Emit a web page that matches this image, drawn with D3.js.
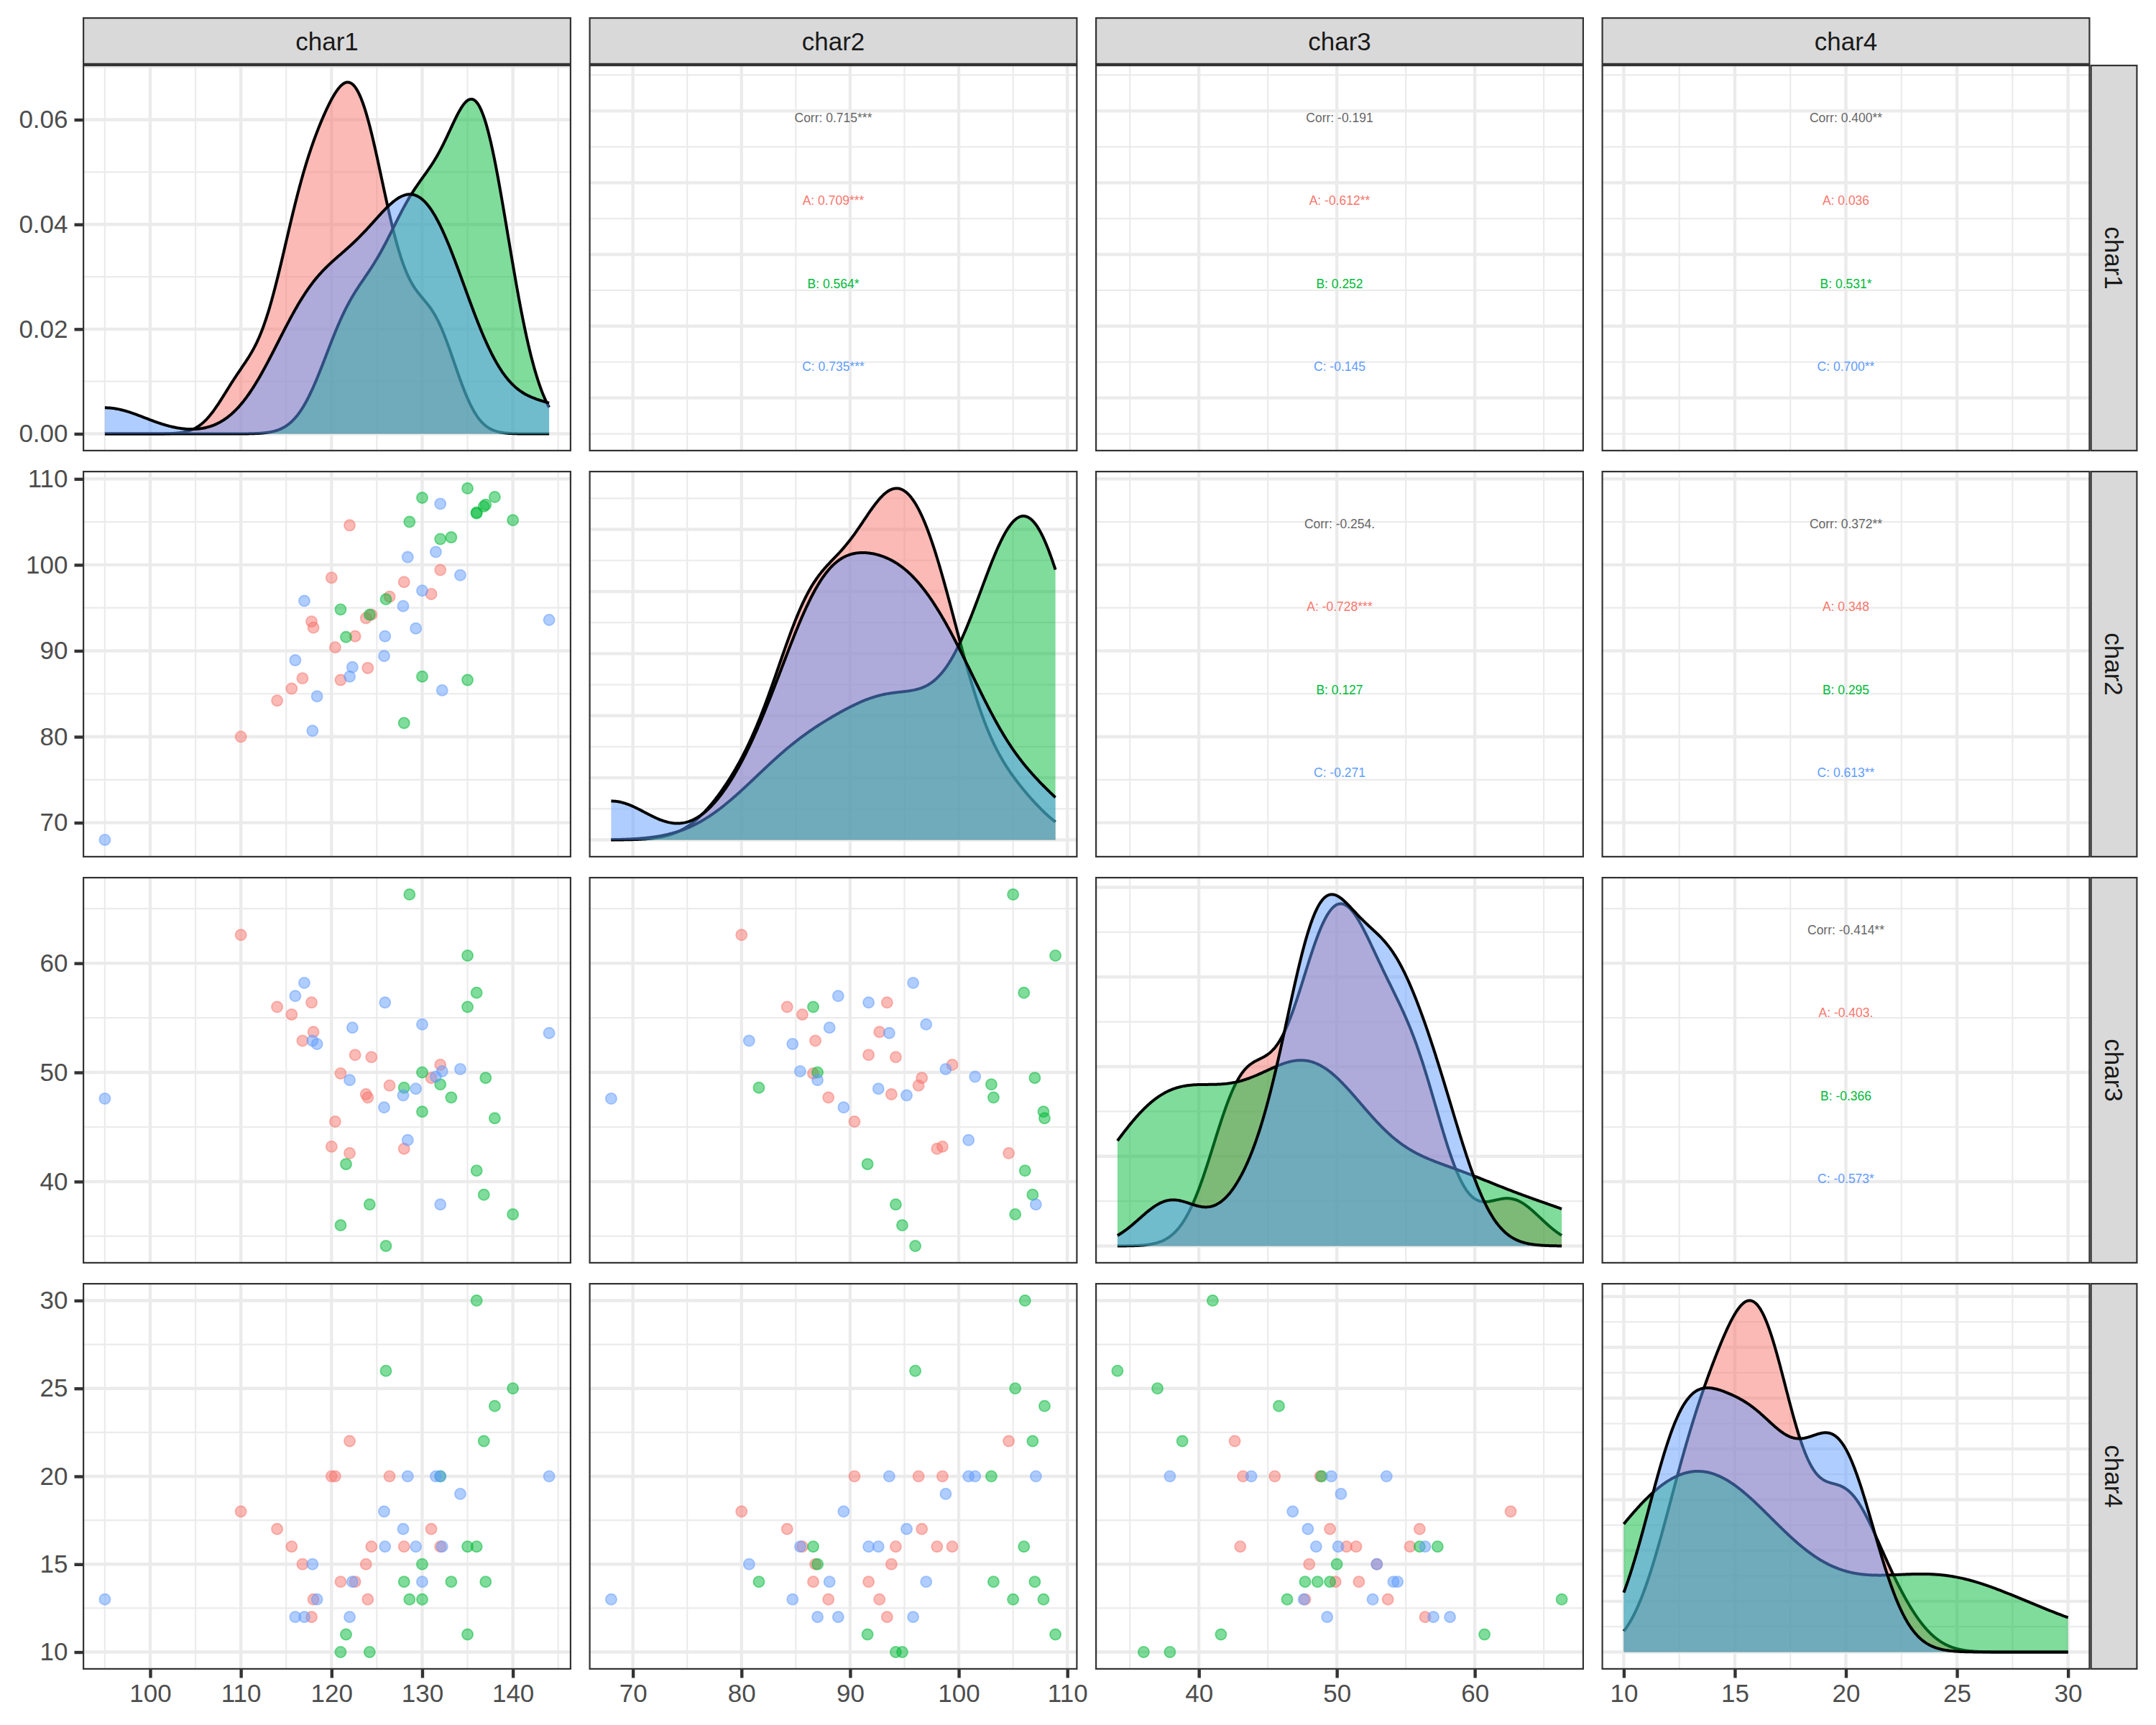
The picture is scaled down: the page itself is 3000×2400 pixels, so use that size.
<!DOCTYPE html>
<html>
<head>
    <meta charset="utf-8">
    <title>Pairs plot char1 - char4</title>
    <script src="https://d3js.org/d3.v7.min.js"></script>
    <style>
      body { margin: 0; background: #fff; }
      text { font-family: "Liberation Sans", Arial, Helvetica, sans-serif; }
    </style>
</head>
<body>
<script>
    var group = ["A","A","A","A","A","A","A","A","A","A","A","A","A","A","A","A","A","A",
                 "B","B","B","B","B","B","B","B","B","B","B","B","B","B","B","B","B","B",
                 "C","C","C","C","C","C","C","C","C","C","C","C","C","C","C","C","C","C"];
    var char1 = [110, 114, 115.6, 116.8, 117.8, 118, 120, 120.4, 121, 122, 122.6, 123.8, 124.0, 124.4, 126.4, 128, 131, 132,
                 121.0, 121.6, 124.2, 126.0, 128.0, 128.6, 130.0, 130.0, 132.0, 133.2, 135.0, 135.0, 136.0, 136.0, 136.8, 137.0, 138.0, 140.0,
                 95, 116, 117, 117.9, 118.4, 122, 122.3, 125.8, 125.9, 127.9, 128.4, 129.3, 130, 131.5, 132, 132.2, 134.2, 144];
    var char2 = [80.0, 84.2, 85.6, 86.8, 93.4, 92.7, 98.5, 90.4, 86.6, 104.6, 91.7, 93.8, 88.0, 94.2, 96.3, 98.0, 96.6, 99.4,
                 94.8, 91.6, 94.2, 96.0, 81.6, 105.0, 107.8, 87.0, 103.0, 103.2, 108.9, 86.6, 106.1, 106.0, 106.8, 107.0, 107.9, 105.2,
                 68.0, 88.9, 95.8, 80.7, 84.7, 87.0, 88.1, 89.4, 91.7, 95.2, 100.9, 92.6, 97.0, 101.5, 107.1, 85.4, 98.8, 93.6];
    var char3 = [62.6, 56.0, 55.3, 52.9, 56.4, 53.7, 43.2, 45.5, 49.9, 42.6, 51.6, 48.0, 47.7, 51.4, 48.8, 43.0, 49.5, 50.7,
                 36.0, 41.6, 37.9, 34.1, 48.6, 66.3, 46.4, 50.0, 48.9, 47.7, 60.7, 56.0, 41.0, 57.3, 38.8, 49.5, 45.8, 37.0,
                 47.6, 57.0, 58.2, 52.9, 52.6, 49.3, 54.1, 46.8, 56.4, 47.9, 43.8, 48.5, 54.4, 49.6, 37.9, 50.1, 50.3, 53.6];
    var char4 = [18, 17, 16, 15, 12, 13, 20, 20, 14, 22, 14, 15, 13, 16, 20, 16, 17, 16,
                 10, 11, 10, 26, 14, 13, 13, 15, 20, 14, 11, 16, 30, 16, 22, 14, 24, 25,
                 13, 12, 12, 15, 13, 12, 14, 18, 16, 17, 20, 16, 14, 20, 20, 16, 19, 20];

    var vars = ["char1", "char2", "char3", "char4"];
    var groups = ["A", "B", "C"];
    var groupColors = ["#F8766D", "#00BA38", "#619CFF"];

    // axis breaks
    var ticks1 = [100, 110, 120, 130, 140];
    var ticks2 = [70, 80, 90, 100, 110];
    var ticks3 = [40, 50, 60];
    var ticks4 = [10, 15, 20, 25, 30];
    var densTicks = [0, 0.02, 0.04, 0.06];

    // correlation labels of the upper panels
    var corrPairs = [[0, 1], [0, 2], [0, 3], [1, 2], [1, 3], [2, 3]];
    var corrText = [
      ["Corr: 0.715***", "A: 0.709***", "B: 0.564*", "C: 0.735***"],
      ["Corr: -0.191", "A: -0.612**", "B: 0.252", "C: -0.145"],
      ["Corr: 0.400**", "A: 0.036", "B: 0.531*", "C: 0.700**"],
      ["Corr: -0.254.", "A: -0.728***", "B: 0.127", "C: -0.271"],
      ["Corr: 0.372**", "A: 0.348", "B: 0.295", "C: 0.613**"],
      ["Corr: -0.414**", "A: -0.403.", "B: -0.366", "C: -0.573*"]
    ];

    var data = [char1, char2, char3, char4];
    var ticks = [ticks1, ticks2, ticks3, ticks4];

    var width = 3000, height = 2400;
    var padLeft = 115, padTop = 90;
    var panelW = 680, panelH = 538;
    var stepX = 704.5, stepY = 565;
    var gridCol = "#EBEBEB", darkCol = "#333333";

    var svg = d3.select("body")
      .append("svg")
      .attr("width", width)
      .attr("height", height)
      .style("background", "#fff");
    var defs = svg.append("defs");

    function expand(ext) {
      var d = (ext[1] - ext[0]) * 0.05;
      return [ext[0] - d, ext[1] + d];
    }

    var xs = data.map(function(vals, j) {
      return d3.scaleLinear().domain(expand(d3.extent(vals)))
        .range([padLeft + j * stepX, padLeft + j * stepX + panelW]);
    });
    var ys = data.map(function(vals, i) {
      return d3.scaleLinear().domain(expand(d3.extent(vals)))
        .range([padTop + i * stepY + panelH, padTop + i * stepY]);
    });

    function minorBreaks(major, domain) {
      var step = major[1] - major[0], out = [];
      for (var k = -1; k < major.length; k++) {
        var m = major[0] + step * (k + 0.5);
        if (m >= domain[0] && m <= domain[1]) out.push(m);
      }
      return out;
    }

    // R style bw.nrd0
    function bwNrd0(x) {
      var s = d3.deviation(x);
      var sorted = x.slice().sort(d3.ascending);
      var iqr = d3.quantileSorted(sorted, 0.75) - d3.quantileSorted(sorted, 0.25);
      var lo = Math.min(s, iqr / 1.34);
      if (!lo) lo = s || 1;
      return 0.9 * lo * Math.pow(x.length, -0.2);
    }

    function kde(values, lo, hi, n) {
      var bw = bwNrd0(values);
      return d3.range(n).map(function(i) {
        var x = lo + (hi - lo) * i / (n - 1);
        var s = d3.sum(values, function(v) {
          var u = (x - v) / bw;
          return Math.exp(-0.5 * u * u);
        });
        return [x, s / (values.length * bw * Math.sqrt(2 * Math.PI))];
      });
    }

    function drawGrid(g, xScale, yScale, xMajor, yMajor, x0, y0) {
      var xd = xScale.domain(), yd = yScale.domain();
      var xMin = minorBreaks(xMajor, xd), yMin = minorBreaks(yMajor, yd);
      var inX = function(v) { return v >= xd[0] && v <= xd[1]; };
      var inY = function(v) { return v >= yd[0] && v <= yd[1]; };
      g.selectAll(null).data(yMin).enter().append("line")
        .attr("x1", x0).attr("x2", x0 + panelW)
        .attr("y1", function(d) { return yScale(d); }).attr("y2", function(d) { return yScale(d); })
        .attr("stroke", gridCol).attr("stroke-width", 2.2);
      g.selectAll(null).data(xMin).enter().append("line")
        .attr("y1", y0).attr("y2", y0 + panelH)
        .attr("x1", function(d) { return xScale(d); }).attr("x2", function(d) { return xScale(d); })
        .attr("stroke", gridCol).attr("stroke-width", 2.2);
      g.selectAll(null).data(yMajor.filter(inY)).enter().append("line")
        .attr("x1", x0).attr("x2", x0 + panelW)
        .attr("y1", function(d) { return yScale(d); }).attr("y2", function(d) { return yScale(d); })
        .attr("stroke", gridCol).attr("stroke-width", 4.4);
      g.selectAll(null).data(xMajor.filter(inX)).enter().append("line")
        .attr("y1", y0).attr("y2", y0 + panelH)
        .attr("x1", function(d) { return xScale(d); }).attr("x2", function(d) { return xScale(d); })
        .attr("stroke", gridCol).attr("stroke-width", 4.4);
    }

    var densScales = [];

    for (var i = 0; i < 4; i++) {
      for (var j = 0; j < 4; j++) {
        var x0 = padLeft + j * stepX, y0 = padTop + i * stepY;
        var clipId = "clip" + i + j;
        defs.append("clipPath").attr("id", clipId)
          .append("rect").attr("x", x0).attr("y", y0).attr("width", panelW).attr("height", panelH);

        var g = svg.append("g").attr("clip-path", "url(#" + clipId + ")");
        g.append("rect").attr("x", x0).attr("y", y0).attr("width", panelW).attr("height", panelH)
          .attr("fill", "#fff");

        if (i === j) {
          // density on the diagonal
          var ext = d3.extent(data[j]);
          var curves = groups.map(function(gr) {
            var vals = data[j].filter(function(v, k) { return group[k] === gr; });
            return kde(vals, ext[0], ext[1], 512);
          });
          var maxD = d3.max(curves, function(c) { return d3.max(c, function(p) { return p[1]; }); });
          var yD = d3.scaleLinear().domain(expand([0, maxD])).range([y0 + panelH, y0]);
          densScales[j] = yD;
          var yMajor = i === 0 ? densTicks : yD.ticks(5);
          drawGrid(g, xs[j], yD, ticks[j], yMajor, x0, y0);

          var area = d3.area().x(function(p) { return xs[j](p[0]); })
            .y0(yD(0)).y1(function(p) { return yD(p[1]); });
          var line = d3.line().x(function(p) { return xs[j](p[0]); })
            .y(function(p) { return yD(p[1]); });
          curves.forEach(function(c, gi) {
            g.append("path").attr("d", area(c))
              .attr("fill", groupColors[gi]).attr("fill-opacity", 0.5);
            g.append("path").attr("d", line(c))
              .attr("fill", "none").attr("stroke", "#000").attr("stroke-width", 4);
          });
        } else if (i > j) {
          // scatter below the diagonal
          drawGrid(g, xs[j], ys[i], ticks[j], ticks[i], x0, y0);
          var xj = j, yi = i;
          g.selectAll("circle").data(d3.range(group.length)).enter().append("circle")
            .attr("cx", function(k) { return xs[xj](data[xj][k]); })
            .attr("cy", function(k) { return ys[yi](data[yi][k]); })
            .attr("r", 7.6)
            .attr("fill", function(k) { return groupColors[groups.indexOf(group[k])]; })
            .attr("fill-opacity", 0.5)
            .attr("stroke", function(k) { return groupColors[groups.indexOf(group[k])]; })
            .attr("stroke-opacity", 0.5)
            .attr("stroke-width", 1.8);
        } else {
          // correlation text above the diagonal
          drawGrid(g, xs[j], ys[i], ticks[j], ticks[i], x0, y0);
          var idx = corrPairs.findIndex(function(p) { return p[0] === i && p[1] === j; });
          g.selectAll("text").data(corrText[idx]).enter().append("text")
            .attr("x", x0 + panelW / 2)
            .attr("y", function(d, n) { return y0 + panelH * (0.137 + 0.2145 * n); })
            .attr("text-anchor", "middle")
            .attr("dominant-baseline", "central")
            .attr("font-size", 17.5)
            .attr("fill", function(d, n) { return n === 0 ? "#666666" : groupColors[n - 1]; })
            .text(function(d) { return d; });
        }

        // panel border
        svg.append("rect").attr("x", x0 + 1.1).attr("y", y0 + 1.1)
          .attr("width", panelW - 2.2).attr("height", panelH - 2.2)
          .attr("fill", "none").attr("stroke", darkCol).attr("stroke-width", 2.2);
      }
    }

    // strips
    var stripTop = 24, stripSize = padTop - stripTop;
    var rightX = padLeft + 3 * stepX + panelW;
    vars.forEach(function(v, j) {
      var x0 = padLeft + j * stepX;
      svg.append("rect").attr("x", x0 + 1.1).attr("y", stripTop + 1.1)
        .attr("width", panelW - 2.2).attr("height", stripSize - 2.2)
        .attr("fill", "#D9D9D9").attr("stroke", darkCol).attr("stroke-width", 2.2);
      svg.append("text").attr("x", x0 + panelW / 2).attr("y", stripTop + stripSize / 2)
        .attr("text-anchor", "middle").attr("dominant-baseline", "central")
        .attr("font-size", 35).attr("fill", "#1A1A1A").text(v);

      var y0 = padTop + j * stepY;
      svg.append("rect").attr("x", rightX + 1.1).attr("y", y0 + 1.1)
        .attr("width", stripSize - 2.2).attr("height", panelH - 2.2)
        .attr("fill", "#D9D9D9").attr("stroke", darkCol).attr("stroke-width", 2.2);
      svg.append("text")
        .attr("transform", "translate(" + [rightX + stripSize / 2, y0 + panelH / 2] + ") rotate(90)")
        .attr("text-anchor", "middle").attr("dominant-baseline", "central")
        .attr("font-size", 35).attr("fill", "#1A1A1A").text(v);
    });

    function styleAxis(sel) {
      sel.select(".domain").remove();
      sel.attr("font-size", 35)
        .attr("font-family", "'Liberation Sans', Arial, Helvetica, sans-serif")
        .attr("color", "#4D4D4D");
      sel.selectAll(".tick line").attr("stroke", darkCol).attr("stroke-width", 4.4);
    }

    // left axes
    for (var r = 0; r < 4; r++) {
      var axis = r === 0
        ? d3.axisLeft(densScales[0]).tickValues(densTicks).tickFormat(d3.format(".2f"))
        : d3.axisLeft(ys[r]).tickValues(ticks[r]).tickFormat(d3.format("d"));
      axis.tickSize(11.5).tickPadding(9).tickSizeOuter(0);
      svg.append("g").attr("transform", "translate(" + padLeft + ",0)").call(axis).call(styleAxis);
    }

    // bottom axes
    var bottomY = padTop + 3 * stepY + panelH;
    for (var c = 0; c < 4; c++) {
      var axB = d3.axisBottom(xs[c]).tickValues(ticks[c]).tickFormat(d3.format("d"))
        .tickSize(11.5).tickPadding(9).tickSizeOuter(0);
      svg.append("g").attr("transform", "translate(0," + bottomY + ")").call(axB).call(styleAxis);
    }
</script>
</body>
</html>
